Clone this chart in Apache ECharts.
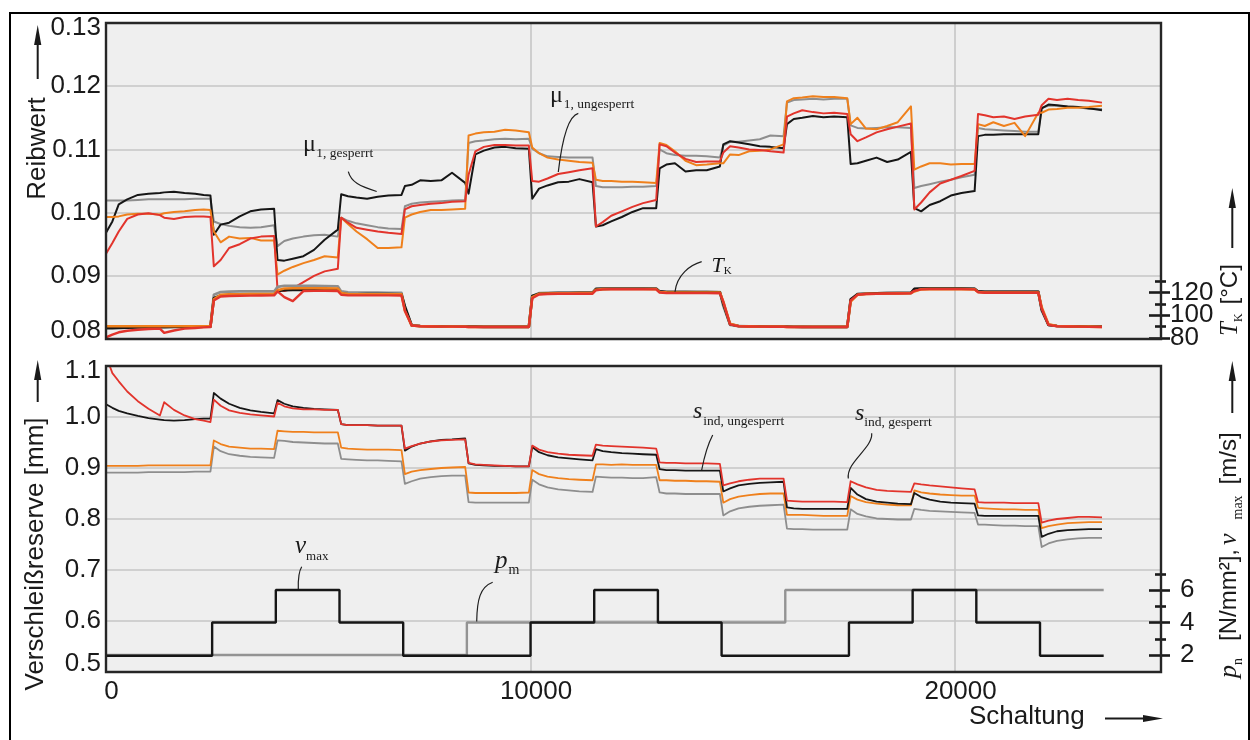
<!DOCTYPE html>
<html lang="de">
<head>
<meta charset="utf-8">
<title>Reibwert und Verschleißreserve über der Schaltungszahl</title>
<script src="https://cdn.jsdelivr.net/npm/echarts@6.0.0/dist/echarts.min.js"></script>
<style>
  html, body { margin: 0; padding: 0; background: #ffffff; }
  #chart { width: 1250px; height: 740px; }
</style>
</head>
<body>
<div id="chart"></div>
<script>
// Schaltungszahl der Messpunkte (gemeinsam für alle Messkurven)
const schaltung = [
  0, 150, 300, 500, 750, 1000, 1270, 1370, 1600, 1850, 2100, 2300, 2460,
  2540, 2700, 2900, 3150, 3400, 3650, 3960,
  4040, 4200, 4400, 4650, 4900, 5150, 5460,
  5540, 5700, 5900, 6150, 6400, 6650, 6960,
  7040, 7200, 7400, 7650, 7900, 8150, 8460,
  8540, 8700, 8900, 9150, 9400, 9650, 9960,
  10040, 10200, 10400, 10650, 10900, 11150, 11460,
  11540, 11700, 11900, 12150, 12400, 12650, 12960,
  13040, 13200, 13400, 13650, 13900, 14150, 14460,
  14540, 14700, 14900, 15150, 15400, 15650, 15960,
  16040, 16200, 16400, 16650, 16900, 17150, 17460,
  17540, 17700, 17900, 18150, 18400, 18650, 18960,
  19040, 19200, 19400, 19650, 19900, 20150, 20460,
  20540, 20700, 20900, 21150, 21400, 21650, 21960,
  22040, 22200, 22400, 22650, 22900, 23150, 23460
];

// Reibwert µ1 der vier Lamellenpakete
const reibSchwarz = [
  0.0968, 0.0986, 0.1013, 0.1021, 0.1028, 0.1030, 0.1031, 0.1032, 0.1033, 0.1031, 0.1030, 0.1028, 0.1027,
  0.0965, 0.0981, 0.0984, 0.0994, 0.1002, 0.1005, 0.1006,
  0.0925, 0.0924, 0.0927, 0.0931, 0.0941, 0.0957, 0.0973,
  0.1029, 0.1026, 0.1024, 0.1022, 0.1025, 0.1027, 0.1028,
  0.1042, 0.1044, 0.1051, 0.1050, 0.1051, 0.1063, 0.1047,
  0.1030, 0.1092, 0.1098, 0.1103, 0.1104, 0.1102, 0.1101,
  0.1022, 0.1038, 0.1043, 0.1048, 0.1049, 0.1053, 0.1048,
  0.0978, 0.0980, 0.0986, 0.0993, 0.1001, 0.1007, 0.1007,
  0.1070, 0.1076, 0.1078, 0.1065, 0.1067, 0.1067, 0.1073,
  0.1108, 0.1113, 0.1111, 0.1108, 0.1105, 0.1104, 0.1102,
  0.1140, 0.1148, 0.1150, 0.1153, 0.1151, 0.1152, 0.1151,
  0.1077, 0.1078, 0.1082, 0.1087, 0.1080, 0.1084, 0.1096,
  0.1007, 0.1002, 0.1012, 0.1018, 0.1027, 0.1031, 0.1034,
  0.1121, 0.1123, 0.1123, 0.1124, 0.1124, 0.1124, 0.1124,
  0.1165, 0.1171, 0.1170, 0.1168, 0.1167, 0.1165, 0.1162
];
const reibGrau = [
  0.1019, 0.1019, 0.1019, 0.1019, 0.1020, 0.1021, 0.1021, 0.1021, 0.1021, 0.1021, 0.1022, 0.1022, 0.1022,
  0.0986, 0.0982, 0.0979, 0.0977, 0.0976, 0.0977, 0.0980,
  0.0947, 0.0955, 0.0959, 0.0962, 0.0964, 0.0965, 0.0962,
  0.0992, 0.0987, 0.0983, 0.0980, 0.0977, 0.0975, 0.0974,
  0.1010, 0.1014, 0.1016, 0.1017, 0.1018, 0.1019, 0.1020,
  0.1110, 0.1113, 0.1114, 0.1116, 0.1117, 0.1116, 0.1117,
  0.1101, 0.1094, 0.1089, 0.1088, 0.1087, 0.1087, 0.1087,
  0.1042, 0.1040, 0.1040, 0.1040, 0.1041, 0.1041, 0.1042,
  0.1100, 0.1094, 0.1091, 0.1090, 0.1090, 0.1089, 0.1087,
  0.1106, 0.1112, 0.1112, 0.1114, 0.1116, 0.1122, 0.1121,
  0.1174, 0.1178, 0.1179, 0.1180, 0.1179, 0.1180, 0.1180,
  0.1138, 0.1134, 0.1133, 0.1134, 0.1135, 0.1135, 0.1134,
  0.1039, 0.1042, 0.1045, 0.1049, 0.1052, 0.1056, 0.1060,
  0.1134, 0.1132, 0.1131, 0.1130, 0.1129, 0.1128, 0.1128,
  0.1166, 0.1169, 0.1169, 0.1168, 0.1167, 0.1164, 0.1164
];
const reibOrange = [
  0.0993, 0.0993, 0.0994, 0.0997, 0.0998, 0.0998, 0.0997, 0.0999, 0.1001, 0.1002, 0.1004, 0.1005, 0.1004,
  0.0970, 0.0953, 0.0962, 0.0959, 0.0960, 0.0956, 0.0956,
  0.0902, 0.0908, 0.0914, 0.0920, 0.0925, 0.0931, 0.0929,
  0.0992, 0.0982, 0.0970, 0.0958, 0.0944, 0.0944, 0.0945,
  0.0992, 0.0997, 0.1001, 0.1004, 0.1004, 0.1005, 0.1006,
  0.1122, 0.1125, 0.1127, 0.1128, 0.1131, 0.1130, 0.1127,
  0.1103, 0.1094, 0.1087, 0.1084, 0.1082, 0.1080, 0.1079,
  0.1052, 0.1050, 0.1050, 0.1049, 0.1049, 0.1048, 0.1047,
  0.1110, 0.1107, 0.1097, 0.1082, 0.1075, 0.1076, 0.1078,
  0.1078, 0.1092, 0.1091, 0.1097, 0.1098, 0.1100, 0.1108,
  0.1176, 0.1181, 0.1182, 0.1184, 0.1183, 0.1183, 0.1181,
  0.1140, 0.1150, 0.1133, 0.1132, 0.1137, 0.1143, 0.1168,
  0.1068, 0.1073, 0.1078, 0.1078, 0.1076, 0.1077, 0.1077,
  0.1140, 0.1137, 0.1143, 0.1137, 0.1142, 0.1121, 0.1158,
  0.1158, 0.1163, 0.1164, 0.1166, 0.1166, 0.1167, 0.1169
];
const reibRot = [
  0.0935, 0.0952, 0.0970, 0.0990, 0.0997, 0.0999, 0.0996, 0.0992, 0.0990, 0.0993, 0.0994, 0.0994, 0.0993,
  0.0915, 0.0925, 0.0944, 0.0950, 0.0959, 0.0962, 0.0963,
  0.0878, 0.0876, 0.0880, 0.0890, 0.0900, 0.0907, 0.0911,
  0.0992, 0.0984, 0.0976, 0.0973, 0.0970, 0.0968, 0.0966,
  0.1005, 0.1010, 0.1012, 0.1014, 0.1015, 0.1017, 0.1018,
  0.1060, 0.1097, 0.1104, 0.1107, 0.1107, 0.1106, 0.1106,
  0.1050, 0.1049, 0.1054, 0.1061, 0.1064, 0.1067, 0.1070,
  0.0978, 0.0985, 0.0995, 0.1002, 0.1009, 0.1015, 0.1020,
  0.1108, 0.1105, 0.1095, 0.1085, 0.1080, 0.1081, 0.1081,
  0.1095, 0.1105, 0.1103, 0.1100, 0.1099, 0.1097, 0.1095,
  0.1152, 0.1157, 0.1162, 0.1159, 0.1157, 0.1158, 0.1156,
  0.1124, 0.1113, 0.1119, 0.1127, 0.1132, 0.1136, 0.1141,
  0.1005, 0.1016, 0.1032, 0.1046, 0.1052, 0.1058, 0.1066,
  0.1156, 0.1154, 0.1151, 0.1152, 0.1148, 0.1152, 0.1155,
  0.1170, 0.1180, 0.1178, 0.1180, 0.1178, 0.1177, 0.1174
];

// Kühlöltemperatur T_K in °C (rechte Achse oben)
const tempSchwarz = [
  88.5, 88.6, 88.8, 89.0, 89.2, 89.4, 89.5, 89.5, 89.6, 89.7, 89.8, 89.9, 89.9,
  115, 117.5, 117.8, 118, 118, 118.2, 118.3,
  121.5, 122, 122.2, 122.3, 122.3, 122.4, 122.2,
  119, 118.5, 118.5, 118.6, 118.6, 118.6, 118.5,
  108, 91, 90.5, 90.3, 90.2, 90.1, 90.0,
  90, 90, 89.8, 89.8, 89.8, 89.8, 89.8,
  117, 119, 119.3, 119.5, 119.6, 119.7, 119.8,
  123, 123.2, 123.3, 123.3, 123.3, 123.3, 123.3,
  121, 120.5, 120.5, 120.5, 120.4, 120.4, 120.3,
  110, 92, 90.5, 90.3, 90.2, 90.1, 90.0,
  90, 89.9, 89.8, 89.8, 89.8, 89.8, 89.8,
  114, 118.5, 119, 119.3, 119.5, 119.6, 119.7,
  123.2, 123.5, 123.5, 123.5, 123.5, 123.5, 123.3,
  121, 120.6, 120.6, 120.6, 120.6, 120.6, 120.6,
  105, 91.5, 90.6, 90.3, 90.2, 90.1, 90.0
];
const tempGrau = [
  90.2, 90.2, 90.2, 90.2, 90.2, 90.2, 90.2, 90.2, 90.2, 90.2, 90.2, 90.2, 90.2,
  118, 120.5, 120.8, 121, 121, 121, 121,
  125, 126, 126, 126, 126, 125.8, 125.6,
  121, 120.2, 120, 120, 120, 119.8, 119.7,
  106, 91.5, 90.5, 90.3, 90.2, 90.1, 90,
  90, 90, 90, 90, 90, 90, 90,
  117, 119.5, 119.8, 120, 120, 120, 120,
  123.5, 123.8, 123.8, 123.8, 123.8, 123.8, 123.6,
  121, 120.7, 120.6, 120.6, 120.5, 120.5, 120.4,
  108, 91.5, 90.4, 90.2, 90.1, 90, 90,
  89.9, 89.8, 89.8, 89.7, 89.7, 89.7, 89.7,
  113, 118.8, 119.2, 119.4, 119.6, 119.7, 119.8,
  123, 123.6, 123.6, 123.6, 123.6, 123.6, 123.4,
  121, 120.8, 120.8, 120.8, 120.8, 120.8, 120.8,
  104, 91.5, 90.5, 90.3, 90.2, 90.1, 90.0
];
const tempOrange = [
  90.3, 90.3, 90.3, 90.3, 90.3, 90.3, 90.3, 90.3, 90.3, 90.3, 90.3, 90.3, 90.3,
  114, 118, 118.4, 118.5, 118.6, 118.6, 118.6,
  122, 123.5, 123.8, 123.8, 123.8, 123.7, 123.5,
  119.5, 118.6, 118.5, 118.5, 118.5, 118.5, 118.4,
  104, 91, 90.4, 90.2, 90.1, 90, 90,
  89.8, 89.8, 89.8, 89.8, 89.8, 89.8, 89.8,
  116, 118.8, 119.2, 119.3, 119.4, 119.5, 119.5,
  122.5, 123, 123.1, 123.1, 123.1, 123.1, 123,
  120.5, 120.2, 120.1, 120.1, 120, 120, 120,
  112, 92.5, 90.5, 90.2, 90.1, 90, 90,
  89.8, 89.8, 89.8, 89.8, 89.8, 89.8, 89.8,
  112, 118, 118.8, 119, 119.2, 119.3, 119.4,
  121, 122.8, 123, 123, 123, 123, 122.8,
  120.5, 120, 120, 120, 120, 120, 120,
  107, 92, 90.5, 90.3, 90.1, 90, 89.8
];
const tempRot = [
  80.5, 83.0, 85.0, 86.4, 87.3, 87.9, 88.2, 84.5, 86.6, 88.2, 88.8, 89.3, 89.6,
  113, 116.5, 117, 117.2, 117.3, 117.4, 117.5,
  121, 116, 112.5, 121.3, 121.5, 121.5, 121.4,
  118, 117.5, 117.5, 117.5, 117.5, 117.5, 117.4,
  104, 91, 90.3, 90.1, 90, 90, 89.9,
  89.7, 89.7, 89.7, 89.7, 89.7, 89.7, 89.7,
  115, 118.3, 118.7, 118.9, 119, 119, 119,
  122, 122.8, 122.9, 122.9, 122.9, 122.9, 122.8,
  120, 119.6, 119.5, 119.5, 119.5, 119.5, 119.4,
  112, 92, 90.3, 90.1, 90, 89.9, 89.9,
  89.7, 89.7, 89.7, 89.7, 89.7, 89.7, 89.7,
  113, 118, 118.7, 119, 119.1, 119.2, 119.3,
  121.5, 122.8, 123, 123, 123, 123, 122.8,
  120.3, 119.8, 119.8, 119.8, 119.8, 119.8, 119.8,
  106, 91.5, 90.3, 90.1, 90, 89.8, 89.7
];

// Verschleißreserve s_ind in mm (unteres Diagramm)
const verschleissSchwarz = [
  1.025, 1.018, 1.012, 1.007, 1.002, 0.998, 0.995, 0.994, 0.993, 0.994, 0.996, 0.997, 0.997,
  1.047, 1.036, 1.026, 1.018, 1.013, 1.010, 1.007,
  1.033, 1.026, 1.021, 1.018, 1.016, 1.015, 1.014,
  0.986, 0.984, 0.984, 0.984, 0.983, 0.983, 0.983,
  0.934, 0.942, 0.948, 0.952, 0.955, 0.956, 0.958,
  0.909, 0.906, 0.905, 0.904, 0.904, 0.903, 0.903,
  0.941, 0.931, 0.925, 0.921, 0.919, 0.917, 0.915,
  0.937, 0.933, 0.931, 0.929, 0.928, 0.927, 0.926,
  0.898, 0.896, 0.896, 0.895, 0.895, 0.895, 0.895,
  0.854, 0.860, 0.866, 0.869, 0.871, 0.872, 0.873,
  0.823, 0.821, 0.820, 0.820, 0.820, 0.820, 0.820,
  0.861, 0.848, 0.839, 0.834, 0.832, 0.830, 0.829,
  0.851, 0.843, 0.838, 0.834, 0.832, 0.831, 0.830,
  0.807, 0.806, 0.806, 0.806, 0.806, 0.806, 0.806,
  0.765, 0.771, 0.776, 0.778, 0.779, 0.780, 0.780
];
const verschleissGrau = [
  0.891, 0.891, 0.891, 0.891, 0.891, 0.892, 0.892, 0.892, 0.892, 0.892, 0.893, 0.893, 0.893,
  0.942, 0.933, 0.927, 0.924, 0.922, 0.921, 0.920,
  0.954, 0.953, 0.951, 0.950, 0.949, 0.948, 0.948,
  0.918, 0.917, 0.916, 0.915, 0.915, 0.914, 0.913,
  0.869, 0.874, 0.879, 0.882, 0.884, 0.885, 0.885,
  0.833, 0.832, 0.832, 0.832, 0.832, 0.832, 0.832,
  0.877, 0.868, 0.862, 0.858, 0.856, 0.854, 0.853,
  0.883, 0.882, 0.881, 0.881, 0.880, 0.880, 0.882,
  0.852, 0.850, 0.850, 0.849, 0.849, 0.849, 0.849,
  0.807, 0.815, 0.821, 0.824, 0.826, 0.827, 0.828,
  0.781, 0.780, 0.780, 0.779, 0.779, 0.779, 0.779,
  0.819, 0.810, 0.805, 0.801, 0.800, 0.799, 0.799,
  0.820, 0.818, 0.816, 0.815, 0.814, 0.813, 0.812,
  0.789, 0.789, 0.788, 0.787, 0.787, 0.786, 0.786,
  0.745, 0.752, 0.757, 0.760, 0.762, 0.763, 0.763
];
const verschleissOrange = [
  0.904, 0.904, 0.904, 0.904, 0.904, 0.905, 0.905, 0.905, 0.905, 0.905, 0.905, 0.905, 0.905,
  0.954, 0.947, 0.942, 0.940, 0.938, 0.938, 0.937,
  0.973, 0.972, 0.971, 0.971, 0.970, 0.970, 0.970,
  0.940, 0.938, 0.937, 0.936, 0.936, 0.936, 0.935,
  0.888, 0.893, 0.896, 0.898, 0.900, 0.901, 0.902,
  0.852, 0.851, 0.851, 0.851, 0.851, 0.851, 0.852,
  0.896, 0.888, 0.883, 0.880, 0.878, 0.877, 0.876,
  0.907, 0.907, 0.906, 0.907, 0.906, 0.906, 0.906,
  0.876, 0.876, 0.875, 0.875, 0.874, 0.874, 0.873,
  0.832, 0.839, 0.844, 0.847, 0.849, 0.850, 0.850,
  0.808, 0.808, 0.808, 0.807, 0.806, 0.806, 0.806,
  0.845, 0.838, 0.833, 0.830, 0.828, 0.827, 0.827,
  0.856, 0.852, 0.850, 0.848, 0.847, 0.846, 0.846,
  0.822, 0.821, 0.820, 0.819, 0.819, 0.818, 0.818,
  0.782, 0.786, 0.789, 0.792, 0.793, 0.794, 0.794
];
const verschleissRot = [
  1.120, 1.086, 1.070, 1.050, 1.031, 1.016, 1.003, 1.029, 1.014, 1.003, 0.996, 0.993, 0.990,
  1.034, 1.022, 1.013, 1.008, 1.005, 1.003, 1.001,
  1.028, 1.021, 1.017, 1.015, 1.015, 1.014, 1.014,
  0.986, 0.984, 0.984, 0.984, 0.983, 0.983, 0.983,
  0.938, 0.943, 0.948, 0.952, 0.954, 0.955, 0.956,
  0.910, 0.907, 0.906, 0.905, 0.904, 0.903, 0.903,
  0.944, 0.936, 0.931, 0.928, 0.926, 0.925, 0.924,
  0.946, 0.944, 0.943, 0.942, 0.941, 0.940, 0.938,
  0.911, 0.910, 0.910, 0.909, 0.909, 0.909, 0.908,
  0.866, 0.870, 0.874, 0.877, 0.879, 0.879, 0.879,
  0.836, 0.835, 0.834, 0.834, 0.834, 0.834, 0.833,
  0.874, 0.868, 0.862, 0.857, 0.855, 0.854, 0.853,
  0.870, 0.868, 0.866, 0.864, 0.862, 0.860, 0.858,
  0.833, 0.832, 0.832, 0.832, 0.831, 0.831, 0.831,
  0.793, 0.797, 0.800, 0.802, 0.804, 0.804, 0.803
];

// Lastkollektiv: Beginn der Stufen, Gleitgeschwindigkeit v_max und Flächenpressung p_m
const stufenBeginn = [0, 2500, 4000, 5500, 7000, 8500, 10000, 11500, 13000, 14500, 16000, 17500, 19000, 20500, 22000, 23500];
const vMax = [1.95, 4, 6, 4, 1.95, 1.95, 4, 6, 4, 1.95, 1.95, 4, 6, 4, 1.95, 1.95];
const pM   = [2, 2, 2, 2, 2, 4, 4, 4, 4, 4, 6, 6, 6, 6, 6, 6];

// Teilungen der rechten Achsen
const tempTicks = [80, 100, 120];
const tempMinor = [90, 110, 130];
const lastTicks = [2, 4, 6];
const lastMinor = [3, 5, 7];

// ---------------------------------------------------------------------------
const SANS = '"Liberation Sans", Arial, Helvetica, sans-serif';
const SERIF = '"Liberation Serif", "Times New Roman", serif';
const TEXT = '#1a1a1a';
const FARBE = { schwarz: '#161616', grau: '#8e8e8e', orange: '#ef801c', rot: '#e2342c' };

const OBEN = { left: 106, top: 23, width: 1055, height: 316 };
const UNTEN = { left: 106, top: 366, width: 1055, height: 306 };
const X_MAX = 24850;
const T_MIN = 79.1, T_MAX = 357.3;
const P_MIN = 0.954, P_MAX = 19.785;

const xy = ys => schaltung.map((x, i) => [x, ys[i]]);
const stufen = ys => stufenBeginn.map((x, i) => [x, ys[i]]);

function kurve(name, werte, farbe, breite, xi, yi) {
  return {
    name, type: 'line', xAxisIndex: xi, yAxisIndex: yi, data: xy(werte),
    symbol: 'none', showSymbol: false, silent: true, animation: false,
    lineStyle: { color: farbe, width: breite, join: 'round' }, itemStyle: { color: farbe }
  };
}
function treppe(name, werte, farbe) {
  return {
    name, type: 'line', xAxisIndex: 1, yAxisIndex: 4, data: stufen(werte), step: 'end',
    symbol: 'none', showSymbol: false, silent: true, animation: false,
    lineStyle: { color: farbe, width: 2.4 }, itemStyle: { color: farbe }
  };
}

const schrift = { fontFamily: SANS, fontSize: 26, color: TEXT };
const gitter = { show: true, showMinLine: false, showMaxLine: false, lineStyle: { color: '#c6c6c6', width: 1.6 } };
const ohne = { show: false };

function xAchse(grid, mitText) {
  return {
    gridIndex: grid, type: 'value', min: 0, max: X_MAX, interval: 10000,
    axisLine: ohne, axisTick: ohne, splitLine: gitter,
    axisLabel: mitText
      ? { show: true, ...schrift, margin: 7, padding: [0, 0, 0, 11], hideOverlap: false,
          formatter: v => (v % 10000 === 0 ? String(v) : '') }
      : { show: false }
  };
}
// Randbeschriftungen stehen etwas zur Diagrammmitte hin versetzt
function linkeAchse(grid, min, max, step, stellen) {
  return {
    gridIndex: grid, type: 'value', position: 'left', min, max, interval: step,
    axisLine: ohne, axisTick: ohne, splitLine: gitter,
    axisLabel: {
      ...schrift, margin: 5, hideOverlap: false, showMinLabel: true, showMaxLabel: true,
      formatter: v => {
        const t = v.toFixed(stellen);
        if (Math.abs(v - max) < 1e-9) return `{hoch|${t}}`;
        if (Math.abs(v - min) < 1e-9) return `{tief|${t}}`;
        return t;
      },
      rich: {
        hoch: { ...schrift, padding: [10, 0, 0, 0] },
        tief: { ...schrift, padding: [0, 0, 17, 0] }
      }
    }
  };
}
// Rechte Achsen: Teilstriche (über die Rahmenlinie hinweg) und Zahlen
function rechteAchse(grid, min, max, striche, versatz, laenge, zahlen, label) {
  return {
    gridIndex: grid, type: 'value', position: 'right', min, max, offset: versatz,
    axisLine: ohne, splitLine: ohne,
    axisTick: striche
      ? { show: true, customValues: striche, length: laenge, inside: false, lineStyle: { color: TEXT, width: 2.6 } }
      : { show: false },
    axisLabel: zahlen
      ? { show: true, customValues: zahlen, ...schrift, lineHeight: 12, interval: 0,
          hideOverlap: false, showMinLabel: true, showMaxLabel: true, ...label }
      : { show: false }
  };
}

// ---------------------------------------------------------------------------
// Beschriftungen mit Index (Grundschrift + tiefgestellter Text), optional gedreht
const messen = (() => {
  const ctx = document.createElement('canvas').getContext('2d');
  return (text, font) => { ctx.font = font; return ctx.measureText(text).width; };
})();
function zeile(x, y, teile, opt = {}) {
  let pos = 0;
  const kinder = teile.map(t => {
    pos += t.vor || 0;
    const font = `${t.kursiv ? 'italic ' : ''}${t.size}px ${t.family || SERIF}`;
    const el = {
      type: 'text', x: pos, y: (t.tief || 0) - 0.34 * t.size, z: 100,
      style: { text: t.text, font, fill: TEXT, align: 'left', verticalAlign: 'middle',
               textAlign: 'left', textVerticalAlign: 'middle' }
    };
    pos += messen(t.text, font);
    return el;
  });
  if (opt.zentriert) kinder.forEach(k => { k.x -= pos / 2; });
  return { type: 'group', x, y, rotation: opt.drehung || 0, z: 100, children: kinder };
}
function pfeil(x1, y1, x2, y2) {
  const len = Math.hypot(x2 - x1, y2 - y1), ux = (x2 - x1) / len, uy = (y2 - y1) / len;
  const kopf = 20, halb = 3.6;
  const bx = x2 - ux * kopf, by = y2 - uy * kopf;
  return [
    { type: 'line', z: 100, shape: { x1, y1, x2: bx + ux * 2, y2: by + uy * 2 }, style: { stroke: TEXT, lineWidth: 2 } },
    { type: 'polygon', z: 100, shape: { points: [[x2, y2], [bx - uy * halb, by + ux * halb], [bx + uy * halb, by - ux * halb]] },
      style: { fill: TEXT } }
  ];
}
function fuehrung(x1, y1, c1x, c1y, c2x, c2y, x2, y2) {
  return { type: 'bezierCurve', z: 100,
    shape: { x1, y1, cpx1: c1x, cpy1: c1y, cpx2: c2x, cpy2: c2y, x2, y2 },
    style: { stroke: '#1f1f1f', lineWidth: 1.2, fill: null } };
}
const rahmen = g => ({ type: 'rect', z: 101,
  shape: { x: g.left, y: g.top, width: g.width, height: g.height },
  style: { stroke: '#262626', lineWidth: 2.4, fill: null } });

const SUB = 13.5;
const grafik = [
  { type: 'rect', z: 101, shape: { x: 10, y: 13, width: 1239, height: 740 },
    style: { stroke: '#000', lineWidth: 2, fill: null } },
  rahmen(OBEN), rahmen(UNTEN),

  // Achsentitel
  zeile(46.5, 148.5, [{ text: 'Reibwert', size: 26, family: SANS }], { drehung: Math.PI / 2, zentriert: true }),
  zeile(45, 554, [{ text: 'Verschleißreserve [mm]', size: 26, family: SANS }], { drehung: Math.PI / 2, zentriert: true }),
  zeile(1238.5, 336, [
    { text: 'T', size: 25, kursiv: true },
    { text: 'K', size: 12, tief: 4.5 },
    { text: '[°C]', size: 24, family: SANS, vor: 9 }
  ], { drehung: Math.PI / 2 }),
  zeile(1238, 678, [
    { text: 'p', size: 26, kursiv: true },
    { text: 'n', size: 14, tief: 5 },
    { text: '[N/mm²],', size: 24, family: SANS, vor: 17 },
    { text: 'v', size: 26, kursiv: true, vor: 4 },
    { text: 'max', size: 14, tief: 5, vor: 14 },
    { text: '[m/s]', size: 24, family: SANS, vor: 11 }
  ], { drehung: Math.PI / 2 }),
  zeile(969, 726, [{ text: 'Schaltung', size: 26, family: SANS }]),
  ...pfeil(37.7, 79, 37.7, 25),
  ...pfeil(37.7, 402, 37.7, 360),
  ...pfeil(1232.3, 248, 1232.3, 188),
  ...pfeil(1232.3, 413, 1232.3, 361),
  ...pfeil(1105, 718.5, 1163, 718.5),

  // Kurvenbezeichnungen
  zeile(303, 153, [{ text: 'μ', size: 24 }, { text: '1, gesperrt', size: SUB, tief: 5, vor: 0.5 }]),
  fuehrung(348.3, 171.7, 351, 182, 360, 186.5, 376.7, 191.5),
  zeile(550, 104, [{ text: 'μ', size: 24 }, { text: '1, ungesperrt', size: SUB, tief: 5, vor: 1 }]),
  fuehrung(578.3, 113.3, 568, 116, 562, 140, 558.3, 172),
  zeile(711.5, 273.3, [{ text: 'T', size: 22, kursiv: true }, { text: 'K', size: 11, tief: 2 }]),
  fuehrung(701.7, 261.7, 690, 265, 677, 275, 675, 291.7),
  zeile(693, 420, [{ text: 's', size: 24, kursiv: true }, { text: 'ind, ungesperrt', size: SUB, tief: 6, vor: 1 }]),
  fuehrung(712.7, 435, 708, 444, 704, 458, 701.7, 470),
  zeile(855, 421.5, [{ text: 's', size: 24, kursiv: true }, { text: 'ind, gesperrt', size: SUB, tief: 6 }]),
  fuehrung(871.7, 433.3, 873, 448, 846, 462, 848.3, 478.5),
  zeile(295, 555, [{ text: 'v', size: 25, kursiv: true }, { text: 'max', size: 13, tief: 6 }]),
  fuehrung(301.7, 566.7, 299, 571, 298, 578, 298.3, 589),
  zeile(495, 570, [{ text: 'p', size: 25, kursiv: true }, { text: 'm', size: 14, tief: 5, vor: 1 }]),
  fuehrung(492.7, 582.3, 480, 587, 477, 600, 476.7, 621.5)
];

// Temperaturzahlen auf zwei Achsen verteilt, damit keine davon ausgeblendet wird
const tempZahlenAussen = tempTicks.filter((_, i) => i % 2 === 0);
const tempZahlenMitte = tempTicks.filter((_, i) => i % 2 === 1);
const tempLabel = { margin: 21, padding: [7, 0, 0, 0] };

const option = {
  animation: false,
  backgroundColor: '#ffffff',
  grid: [
    { ...OBEN, show: true, backgroundColor: '#efefef', borderWidth: 0, containLabel: false, outerBoundsMode: 'none' },
    { ...UNTEN, show: true, backgroundColor: '#efefef', borderWidth: 0, containLabel: false, outerBoundsMode: 'none' }
  ],
  xAxis: [xAchse(0, false), xAchse(1, true)],
  yAxis: [
    linkeAchse(0, 0.08, 0.13, 0.01, 2),
    rechteAchse(0, T_MIN, T_MAX, tempTicks, -12, 21, tempZahlenAussen, tempLabel),
    rechteAchse(0, T_MIN, T_MAX, tempMinor, -6, 11, null),
    linkeAchse(1, 0.5, 1.1, 0.1, 1),
    rechteAchse(1, P_MIN, P_MAX, lastTicks, -12, 21, lastTicks, { margin: 31, padding: [6, 0, 0, 0] }),
    rechteAchse(1, P_MIN, P_MAX, lastMinor, -6, 11, null),
    rechteAchse(0, T_MIN, T_MAX, null, -12, 0, tempZahlenMitte, tempLabel)
  ],
  series: [
    kurve('µ1 grau', reibGrau, FARBE.grau, 2, 0, 0),
    kurve('µ1 schwarz', reibSchwarz, FARBE.schwarz, 2, 0, 0),
    kurve('µ1 orange', reibOrange, FARBE.orange, 2, 0, 0),
    kurve('µ1 rot', reibRot, FARBE.rot, 2, 0, 0),
    kurve('T_K grau', tempGrau, FARBE.grau, 2.6, 0, 1),
    kurve('T_K schwarz', tempSchwarz, FARBE.schwarz, 2.6, 0, 1),
    kurve('T_K orange', tempOrange, FARBE.orange, 2.6, 0, 1),
    kurve('T_K rot', tempRot, FARBE.rot, 2.4, 0, 1),
    kurve('s_ind grau', verschleissGrau, FARBE.grau, 1.8, 1, 3),
    kurve('s_ind orange', verschleissOrange, FARBE.orange, 1.8, 1, 3),
    kurve('s_ind schwarz', verschleissSchwarz, FARBE.schwarz, 1.8, 1, 3),
    kurve('s_ind rot', verschleissRot, FARBE.rot, 1.8, 1, 3),
    treppe('p_m', pM, '#939393'),
    treppe('v_max', vMax, '#161616')
  ],
  graphic: grafik
};

const chart = echarts.init(document.getElementById('chart'), null, { renderer: 'canvas' });
chart.setOption(option);
</script>
</body>
</html>
